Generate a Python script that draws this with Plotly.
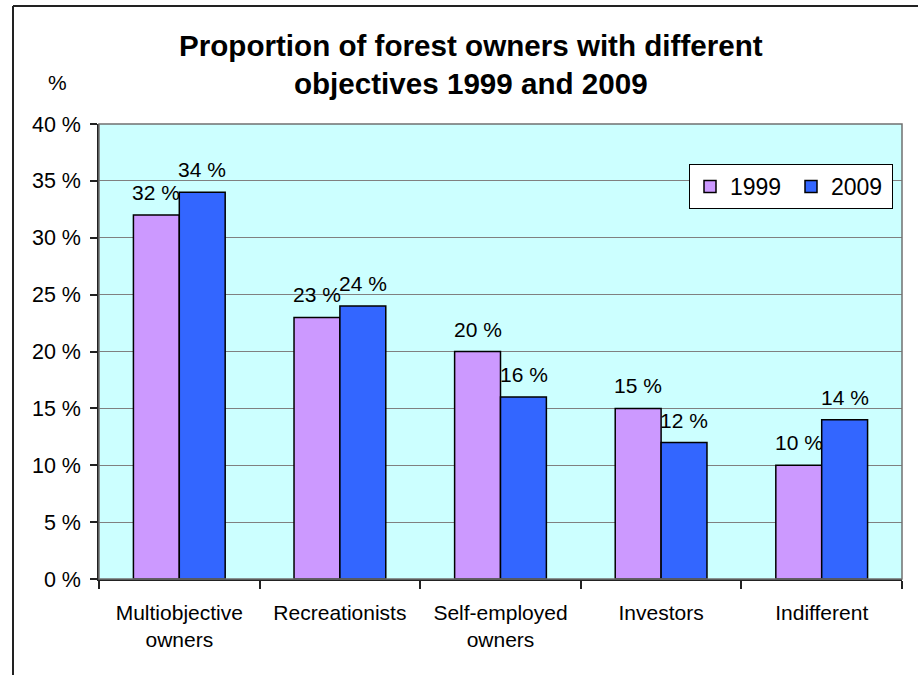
import plotly.graph_objects as go

categories = ["Multiobjective<br>owners", "Recreationists", "Self-employed<br>owners", "Investors", "Indifferent"]
values_1999 = [32, 23, 20, 15, 10]
values_2009 = [34, 24, 16, 12, 14]
y_ticks = [0, 5, 10, 15, 20, 25, 30, 35, 40]
y_tick_labels = [f"{v} %" for v in y_ticks]

W, H = 918, 675
L, R, T, B = 99, 16, 124, 96
pw, ph = W - L - R, H - T - B

def px(x):
    return (x - L) / pw

def py(y):
    return (H - B - y) / ph

FONT = "Liberation Sans, Arial, sans-serif"
BAR_HALF = 23  # half of a bar width in pixels, for label offset

fig = go.Figure()
fig.add_trace(go.Bar(
    name="1999", x=categories, y=values_1999,
    marker=dict(color="#CC99FF", line=dict(color="black", width=1.5)),
))
fig.add_trace(go.Bar(
    name="2009", x=categories, y=values_2009,
    marker=dict(color="#3366FF", line=dict(color="black", width=1.5)),
))

annotations = []
for vals, shift in ((values_1999, -BAR_HALF), (values_2009, BAR_HALF)):
    for c, v in zip(categories, vals):
        annotations.append(dict(
            x=c, y=v, xref="x", yref="y", text=f"{v} %", showarrow=False,
            xanchor="center", yanchor="bottom", xshift=shift, yshift=9,
            font=dict(size=21, family=FONT, color="black"),
        ))

annotations += [
    dict(text="<b>Proportion of forest owners with different<br>objectives 1999 and 2009</b>",
         xref="paper", yref="paper", x=px(471), y=py(64), xanchor="center", yanchor="middle",
         showarrow=False, font=dict(size=29.6, family=FONT, color="black")),
    dict(text="%", xref="paper", yref="paper", x=px(57), y=py(82), xanchor="center", yanchor="middle",
         showarrow=False, font=dict(size=21, family=FONT, color="black")),
]

fig.update_layout(
    width=W, height=H,
    margin=dict(l=L, r=R, t=T, b=B, pad=0),
    paper_bgcolor="white",
    plot_bgcolor="#CCFFFF",
    font=dict(family=FONT, color="black", size=21),
    barmode="group",
    bargap=0.4286, bargroupgap=0,
    showlegend=True,
    legend=dict(
        orientation="h", x=px(893), y=py(164), xanchor="right", yanchor="top",
        bgcolor="white", bordercolor="black", borderwidth=1,
        font=dict(size=23, family=FONT),
        traceorder="normal", entrywidth=56, entrywidthmode="pixels",
    ),
    xaxis=dict(
        type="category", showline=True, linecolor="#222", linewidth=1.5,
        ticks="outside", tickson="boundaries", ticklen=8, tickcolor="#222", tickwidth=1.5,
        tickfont=dict(size=21, family=FONT), showgrid=False,
        ticklabelstandoff=14,
    ),
    yaxis=dict(
        range=[0, 40], tickvals=y_ticks, ticktext=y_tick_labels,
        showline=True, linecolor="#222", linewidth=1.5,
        ticks="outside", ticklen=7, tickcolor="#222", tickwidth=1.5,
        showgrid=True, gridcolor="#808080", gridwidth=1,
        tickfont=dict(size=21.5, family=FONT), zeroline=False,
        ticklabelstandoff=5,
    ),
    shapes=[
        dict(type="rect", xref="paper", yref="paper", x0=0, x1=1, y0=0, y1=1,
             line=dict(color="#707070", width=1.5), layer="above"),
        dict(type="line", xref="paper", yref="paper", x0=px(13), x1=px(13), y0=py(6), y1=py(H + 5),
             line=dict(color="#222", width=2)),
        dict(type="line", xref="paper", yref="paper", x0=px(13), x1=px(W + 5), y0=py(6), y1=py(6),
             line=dict(color="#222", width=2)),
    ],
    annotations=annotations,
)

fig.write_html(
    "out.html",
    config={"displayModeBar": False},
    post_script="document.body.style.margin='0';document.body.style.overflow='hidden';",
)
